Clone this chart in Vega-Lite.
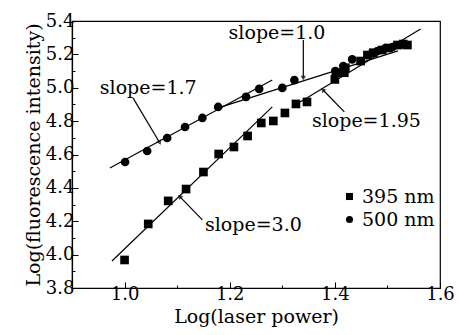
{
  "$schema": "https://vega.github.io/schema/vega-lite/v6.json",
  "width": 368,
  "height": 267,
  "autosize": "none",
  "padding": {"left": 72, "top": 21, "right": 19, "bottom": 47},
  "config": {
    "font": "DejaVu Serif",
    "view": {"stroke": "black", "strokeWidth": 1.2},
    "axis": {"domainColor": "black", "tickColor": "black", "labelColor": "black", "titleColor": "black", "grid": false, "domainWidth": 1.2, "tickWidth": 1, "labelFont": "DejaVu Serif", "titleFont": "DejaVu Serif"},
    "legend": {"labelFont": "DejaVu Serif", "labelFontSize": 19, "labelColor": "black"}
  },
  "datasets": {
    "points": [
      {"x": 1.000, "y": 3.968, "series": "395 nm"},
      {"x": 1.045, "y": 4.184, "series": "395 nm"},
      {"x": 1.083, "y": 4.322, "series": "395 nm"},
      {"x": 1.117, "y": 4.393, "series": "395 nm"},
      {"x": 1.150, "y": 4.495, "series": "395 nm"},
      {"x": 1.179, "y": 4.603, "series": "395 nm"},
      {"x": 1.208, "y": 4.645, "series": "395 nm"},
      {"x": 1.234, "y": 4.711, "series": "395 nm"},
      {"x": 1.260, "y": 4.789, "series": "395 nm"},
      {"x": 1.283, "y": 4.801, "series": "395 nm"},
      {"x": 1.305, "y": 4.849, "series": "395 nm"},
      {"x": 1.326, "y": 4.903, "series": "395 nm"},
      {"x": 1.347, "y": 4.915, "series": "395 nm"},
      {"x": 1.400, "y": 5.050, "series": "395 nm"},
      {"x": 1.402, "y": 5.090, "series": "395 nm"},
      {"x": 1.418, "y": 5.090, "series": "395 nm"},
      {"x": 1.420, "y": 5.120, "series": "395 nm"},
      {"x": 1.449, "y": 5.160, "series": "395 nm"},
      {"x": 1.462, "y": 5.196, "series": "395 nm"},
      {"x": 1.473, "y": 5.210, "series": "395 nm"},
      {"x": 1.490, "y": 5.226, "series": "395 nm"},
      {"x": 1.502, "y": 5.238, "series": "395 nm"},
      {"x": 1.519, "y": 5.256, "series": "395 nm"},
      {"x": 1.530, "y": 5.262, "series": "395 nm"},
      {"x": 1.538, "y": 5.256, "series": "395 nm"},
      {"x": 1.001, "y": 4.555, "series": "500 nm"},
      {"x": 1.043, "y": 4.621, "series": "500 nm"},
      {"x": 1.081, "y": 4.699, "series": "500 nm"},
      {"x": 1.115, "y": 4.765, "series": "500 nm"},
      {"x": 1.148, "y": 4.819, "series": "500 nm"},
      {"x": 1.178, "y": 4.885, "series": "500 nm"},
      {"x": 1.231, "y": 4.945, "series": "500 nm"},
      {"x": 1.256, "y": 4.993, "series": "500 nm"},
      {"x": 1.300, "y": 4.999, "series": "500 nm"},
      {"x": 1.323, "y": 5.046, "series": "500 nm"},
      {"x": 1.401, "y": 5.100, "series": "500 nm"},
      {"x": 1.416, "y": 5.130, "series": "500 nm"},
      {"x": 1.433, "y": 5.170, "series": "500 nm"},
      {"x": 1.464, "y": 5.196, "series": "500 nm"},
      {"x": 1.481, "y": 5.220, "series": "500 nm"},
      {"x": 1.496, "y": 5.238, "series": "500 nm"},
      {"x": 1.510, "y": 5.244, "series": "500 nm"},
      {"x": 1.525, "y": 5.256, "series": "500 nm"}
    ],
    "fits": [
      {"fit": "s17", "x": 0.972, "y": 4.519},
      {"fit": "s17", "x": 1.281, "y": 5.046},
      {"fit": "s10", "x": 1.172, "y": 4.873},
      {"fit": "s10", "x": 1.520, "y": 5.221},
      {"fit": "s195", "x": 1.334, "y": 4.915},
      {"fit": "s195", "x": 1.563, "y": 5.352},
      {"fit": "s30", "x": 0.976, "y": 3.962},
      {"fit": "s30", "x": 1.281, "y": 4.885}
    ],
    "arrows": [
      {"id": "a17", "x": 1.016, "y": 4.939, "x2": 1.066, "y2": 4.675},
      {"id": "a10", "x": 1.340, "y": 5.286, "x2": 1.340, "y2": 5.062},
      {"id": "a195", "x": 1.418, "y": 4.855, "x2": 1.378, "y2": 4.985},
      {"id": "a30", "x": 1.148, "y": 4.208, "x2": 1.106, "y2": 4.345}
    ],
    "labels": [
      {"x": 1.045, "y": 4.999, "text": "slope=1.7"},
      {"x": 1.290, "y": 5.328, "text": "slope=1.0"},
      {"x": 1.460, "y": 4.800, "text": "slope=1.95"},
      {"x": 1.245, "y": 4.178, "text": "slope=3.0"}
    ]
  },
  "encoding": {
    "x": {"field": "x", "type": "quantitative", "scale": {"domain": [0.9, 1.6], "nice": false, "zero": false},
      "axis": {"title": "Log(laser power)", "values": [1.0, 1.1, 1.2, 1.3, 1.4, 1.5, 1.6],
        "labelExpr": "round(datum.value*10) % 2 == 0 ? format(datum.value, '.1f') : ''",
        "tickSize": {"condition": {"test": "round(datum.value*10) % 2 == 0", "value": -6}, "value": -3},
        "labelFontSize": 18, "labelPadding": 3, "labelFlush": false, "labelOverlap": false,
        "titleFontSize": 19, "titleFontWeight": "normal", "titlePadding": 1}},
    "y": {"field": "y", "type": "quantitative", "scale": {"domain": [3.8, 5.4], "nice": false, "zero": false},
      "axis": {"title": "Log(fluorescence intensity)", "values": [3.8, 3.9, 4.0, 4.1, 4.2, 4.3, 4.4, 4.5, 4.6, 4.7, 4.8, 4.9, 5.0, 5.1, 5.2, 5.3, 5.4],
        "labelExpr": "round(datum.value*10) % 2 == 0 ? format(datum.value, '.1f') : ''",
        "tickSize": {"condition": {"test": "round(datum.value*10) % 2 == 0", "value": -6}, "value": -3},
        "labelFontSize": 18, "labelPadding": 4, "labelFlush": false, "labelOverlap": false,
        "titleFontSize": 19, "titleFontWeight": "normal", "titlePadding": 2}}
  },
  "layer": [
    {
      "data": {"name": "fits"},
      "mark": {"type": "line", "color": "black", "strokeWidth": 1.2},
      "encoding": {"detail": {"field": "fit"}}
    },
    {
      "data": {"name": "arrows"},
      "mark": {"type": "rule", "color": "black", "strokeWidth": 1.2},
      "encoding": {"x2": {"field": "x2"}, "y2": {"field": "y2"}}
    },
    {
      "data": {"name": "arrows"},
      "transform": [{"filter": "datum.id == 'a17'"}],
      "mark": {"type": "point", "shape": "triangle", "filled": true, "color": "black", "size": 30, "angle": 150},
      "encoding": {"x": {"field": "x2", "type": "quantitative"}, "y": {"field": "y2", "type": "quantitative"}}
    },
    {
      "data": {"name": "arrows"},
      "transform": [{"filter": "datum.id == 'a10'"}],
      "mark": {"type": "point", "shape": "triangle", "filled": true, "color": "black", "size": 30, "angle": 180},
      "encoding": {"x": {"field": "x2", "type": "quantitative"}, "y": {"field": "y2", "type": "quantitative"}}
    },
    {
      "data": {"name": "arrows"},
      "transform": [{"filter": "datum.id == 'a195'"}],
      "mark": {"type": "point", "shape": "triangle", "filled": true, "color": "black", "size": 30, "angle": 315},
      "encoding": {"x": {"field": "x2", "type": "quantitative"}, "y": {"field": "y2", "type": "quantitative"}}
    },
    {
      "data": {"name": "arrows"},
      "transform": [{"filter": "datum.id == 'a30'"}],
      "mark": {"type": "point", "shape": "triangle", "filled": true, "color": "black", "size": 30, "angle": 316},
      "encoding": {"x": {"field": "x2", "type": "quantitative"}, "y": {"field": "y2", "type": "quantitative"}}
    },
    {
      "data": {"name": "labels"},
      "mark": {"type": "text", "fontSize": 19, "color": "black", "font": "DejaVu Serif"},
      "encoding": {"text": {"field": "text"}}
    },
    {
      "data": {"name": "points"},
      "mark": {"type": "point", "filled": true, "opacity": 1, "size": 75},
      "encoding": {
        "shape": {"field": "series", "type": "nominal", "scale": {"domain": ["395 nm", "500 nm"], "range": ["square", "circle"]},
          "legend": {"title": null, "orient": "none", "legendX": 268, "legendY": 166, "labelFontSize": 19, "labelFont": "DejaVu Serif", "labelColor": "black", "symbolSize": 50, "symbolFillColor": "black", "symbolStrokeColor": "black", "symbolType": "circle", "rowPadding": 3, "labelOffset": 3}},
        "color": {"value": "black"}
      }
    }
  ]
}
